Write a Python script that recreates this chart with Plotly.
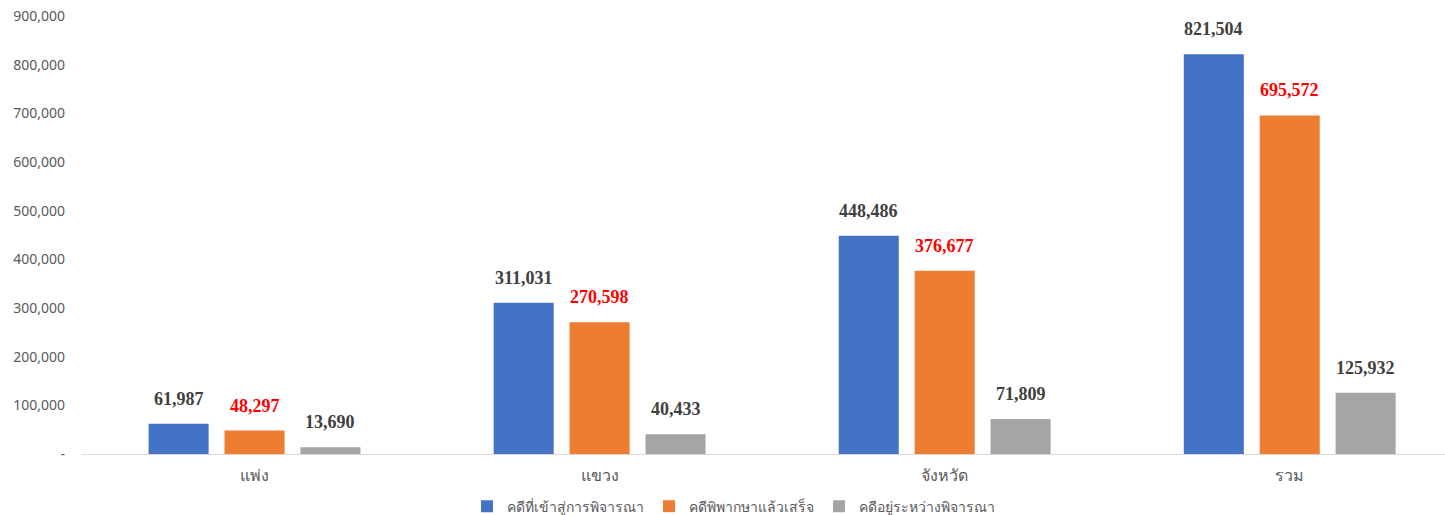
import plotly.graph_objects as go

categories = ["แพ่ง", "แขวง", "จังหวัด", "รวม"]
series_names = ["คดีที่เข้าสู่การพิจารณา", "คดีพิพากษาแล้วเสร็จ", "คดีอยู่ระหว่างพิจารณา"]
cases_filed = [61987, 311031, 448486, 821504]
cases_decided = [48297, 270598, 376677, 695572]
cases_pending = [13690, 40433, 71809, 125932]
y_tick_values = [0, 100000, 200000, 300000, 400000, 500000, 600000, 700000, 800000, 900000]
y_tick_labels = ["-", "100,000", "200,000", "300,000", "400,000", "500,000",
                 "600,000", "700,000", "800,000", "900,000"]

series_values = [cases_filed, cases_decided, cases_pending]
bar_colors = ["#4472C4", "#ED7D31", "#A5A5A5"]
label_colors = ["#404040", "#FF0000", "#404040"]
offsets = [-0.22, 0.0, 0.22]
bar_width = 0.174

positions = list(range(len(categories)))

fig = go.Figure()
annotations = []
for name, vals, color, lcol, off in zip(series_names, series_values, bar_colors, label_colors, offsets):
    xs = [p + off for p in positions]
    fig.add_trace(go.Bar(
        x=xs, y=vals, name=name, width=bar_width,
        marker=dict(color=color, line=dict(width=0)),
        hoverinfo="skip",
    ))
    # value label above each bar
    for x, v in zip(xs, vals):
        annotations.append(dict(
            x=x, y=v, xref="x", yref="y", text=f"<b>{v:,}</b>",
            showarrow=False, yanchor="bottom", yshift=13,
            font=dict(family="Liberation Serif, Times New Roman, serif", size=18, color=lcol),
        ))

fig.update_layout(
    width=1445, height=515,
    margin=dict(l=82, r=0, t=16, b=61, autoexpand=False),
    paper_bgcolor="white", plot_bgcolor="white",
    barmode="overlay",
    showlegend=True,
    legend=dict(orientation="h", x=0.478, xanchor="center", y=-0.12, yanchor="middle",
                font=dict(family="Noto Sans, Tahoma, sans-serif", size=14, color="#595959")),
    annotations=annotations,
    font=dict(family="Noto Sans, Tahoma, sans-serif", color="#595959"),
)
fig.update_xaxes(
    range=[-0.5, 3.45], tickmode="array", tickvals=positions, ticktext=categories,
    showgrid=False, zeroline=False, showline=True, linecolor="#D9D9D9", linewidth=1,
    ticks="", tickfont=dict(size=16, color="#595959"), ticklabelstandoff=7,
)
fig.update_yaxes(
    range=[0, 900000], tickmode="array", tickvals=y_tick_values, ticktext=y_tick_labels,
    showgrid=False, zeroline=False, showline=False, ticks="",
    tickfont=dict(family="Noto Sans, Calibri, sans-serif", size=14, color="#595959"),
    ticklabelstandoff=16,
)

fig.write_html("out.html")
